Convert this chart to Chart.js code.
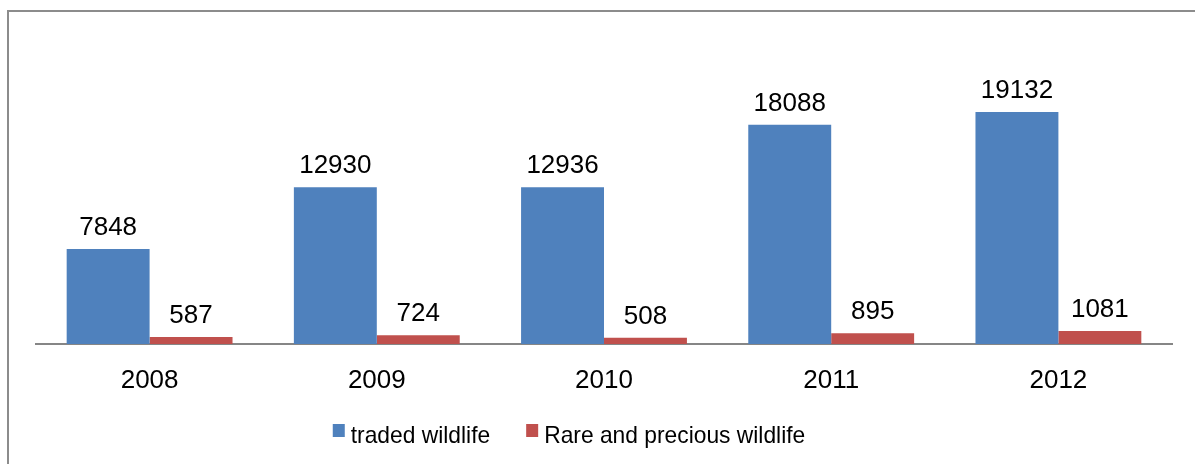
<!DOCTYPE html>
<html lang="en">
<head>
<meta charset="UTF-8">
<title>Wildlife trade 2008-2012</title>
<script src="https://cdn.jsdelivr.net/npm/chart.js"></script>
<style>
  html, body { margin: 0; padding: 0; background: #fff; overflow: hidden; }
  #wrap { position: relative; width: 1195px; height: 464px; overflow: hidden; }
  #frame { position: absolute; left: 7px; top: 10px; width: 1300px; height: 600px;
           border-left: 2px solid #8c8c8c; border-top: 2px solid #8c8c8c; }
  canvas { position: absolute; left: 0; top: 0; }
</style>
</head>
<body>
<div id="wrap">
  <div id="frame"></div>
  <canvas id="wildlifeChart" width="1195" height="464"></canvas>
</div>
<script>
  const years = ['2008', '2009', '2010', '2011', '2012'];
  const tradedWildlife = [7848, 12930, 12936, 18088, 19132];
  const rareWildlife = [587, 724, 508, 895, 1081];
  const seriesNames = ['traded wildlife', 'Rare and precious wildlife'];

  const FONT = '"Liberation Sans", Arial, sans-serif';

  // value printed above each bar
  const valueLabels = {
    id: 'valueLabels',
    afterDatasetsDraw(chart) {
      const ctx = chart.ctx;
      ctx.save();
      ctx.font = '26px ' + FONT;
      ctx.fillStyle = '#000';
      ctx.textAlign = 'center';
      ctx.textBaseline = 'alphabetic';
      chart.data.datasets.forEach((ds, i) => {
        chart.getDatasetMeta(i).data.forEach((bar, j) => {
          ctx.fillText(String(ds.data[j]), bar.x, bar.y - 14);
        });
      });
      ctx.restore();
    }
  };

  // legend row under the axis labels (text slightly condensed)
  const bottomLegend = {
    id: 'bottomLegend',
    afterDraw(chart) {
      const ctx = chart.ctx;
      const squeeze = 0.95;
      ctx.save();
      ctx.font = '24px ' + FONT;
      ctx.textBaseline = 'alphabetic';
      ctx.textAlign = 'left';
      const items = chart.data.datasets.map(ds => {
        const tw = ctx.measureText(ds.label).width * squeeze;
        return { text: ds.label, color: ds.backgroundColor, tw: tw, w: 18 + tw };
      });
      const gap = 36;
      const total = items.reduce((s, it) => s + it.w, 0) + gap * (items.length - 1);
      let x = 569 - total / 2;
      items.forEach(it => {
        ctx.fillStyle = it.color;
        ctx.fillRect(x, 424, 12, 13);
        ctx.fillStyle = '#000';
        ctx.save();
        ctx.translate(x + 18, 443);
        ctx.scale(squeeze, 1);
        ctx.fillText(it.text, 0, 0);
        ctx.restore();
        x += it.w + gap;
      });
      ctx.restore();
    }
  };

  const ctx = document.getElementById('wildlifeChart').getContext('2d');
  const wildlifeChart = new Chart(ctx, {
    type: 'bar',
    data: {
      labels: years,
      datasets: [
        {
          label: seriesNames[0],
          data: tradedWildlife,
          backgroundColor: '#4F81BD',
          borderWidth: 0,
          categoryPercentage: 0.73,
          barPercentage: 1
        },
        {
          label: seriesNames[1],
          data: rareWildlife,
          backgroundColor: '#C0504D',
          borderWidth: 0,
          categoryPercentage: 0.73,
          barPercentage: 1
        }
      ]
    },
    options: {
      responsive: false,
      animation: false,
      layout: { padding: { left: 36, right: 23, top: 41, bottom: 0 } },
      plugins: {
        legend: { display: false },
        tooltip: { enabled: false }
      },
      scales: {
        x: {
          grid: { display: false, drawTicks: false },
          border: { display: true, color: '#868686', width: 2 },
          ticks: {
            color: '#000',
            font: { family: FONT, size: 26 },
            padding: 21,
            maxRotation: 0
          },
          afterFit: scale => { scale.height = 120; }
        },
        y: {
          display: false,
          min: 0,
          max: 25000
        }
      }
    },
    plugins: [valueLabels, bottomLegend]
  });
</script>
</body>
</html>
